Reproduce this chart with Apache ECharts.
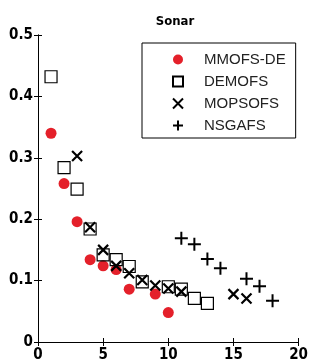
<!DOCTYPE html>
<html><head><meta charset="utf-8">
<script src="https://cdn.jsdelivr.net/npm/echarts@6/dist/echarts.min.js"></script>
<style>html,body{margin:0;padding:0;background:#fff}#c{width:311px;height:364px}</style>
</head><body><div id="c"></div>
<script>
const titleText = 'Sonar';
const xTicks = [0, 5, 10, 15, 20];
const yTicks = [0, 0.1, 0.2, 0.3, 0.4, 0.5];
const seriesNames = ['MMOFS-DE', 'DEMOFS', 'MOPSOFS', 'NSGAFS'];
const mmofsX = [1, 2, 3, 4, 5, 6, 7, 9, 10];
const mmofsY = [0.340, 0.258, 0.196, 0.134, 0.124, 0.118, 0.086, 0.078, 0.048];
const demofsX = [1, 2, 3, 4, 5, 6, 7, 8, 10, 11, 12, 13];
const demofsY = [0.432, 0.284, 0.249, 0.184, 0.142, 0.134, 0.123, 0.098, 0.090, 0.086, 0.071, 0.063];
const mopsofsX = [3, 4, 5, 6, 7, 8, 9, 10, 11, 15, 16];
const mopsofsY = [0.303, 0.187, 0.150, 0.124, 0.112, 0.101, 0.092, 0.087, 0.082, 0.078, 0.071];
const nsgafsX = [11, 12, 13, 14, 16, 17, 18];
const nsgafsY = [0.169, 0.159, 0.135, 0.120, 0.103, 0.091, 0.067];

const zip = (xs, ys) => xs.map((x, i) => [x, ys[i]]);
const labelFont = {fontFamily: 'DejaVu Sans Condensed', fontWeight: 'bold', fontSize: 15, color: '#000'};
const chart = echarts.init(document.getElementById('c'), null, {renderer: 'canvas'});
chart.setOption({
  animation: false,
  backgroundColor: '#fff',
  title: {text: titleText, left: 170, top: 10, textAlign: 'center',
    textStyle: {fontFamily: 'DejaVu Sans Condensed', fontWeight: 'bold', fontSize: 13, color: '#000'}},
  grid: {left: 38, right: 8, top: 35, bottom: 22, containLabel: false},
  legend: {
    data: seriesNames, orient: 'vertical', left: 142, top: 43,
    padding: [9, 10, 5, 30], itemGap: 7, itemWidth: 10, itemHeight: 10,
    borderColor: '#000', borderWidth: 1, backgroundColor: '#fff',
    textStyle: {fontFamily: 'Liberation Sans', fontSize: 15, color: '#222', padding: [0, 0, 0, 16]}
  },
  xAxis: [
    {type: 'value', min: 0, max: 20, interval: 5, splitLine: {show: false},
      axisLine: {lineStyle: {color: '#000', width: 1}},
      axisTick: {inside: true, length: 4, lineStyle: {color: '#000'}},
      axisLabel: Object.assign({margin: 6, formatter: v => String(xTicks[xTicks.indexOf(v)] ?? v)}, labelFont)},
    {type: 'value', position: 'top', min: 0, max: 20, interval: 5, splitLine: {show: false},
      axisLine: {lineStyle: {color: '#000', width: 1}},
      axisTick: {inside: true, length: 4, lineStyle: {color: '#000'}}, axisLabel: {show: false}}
  ],
  yAxis: [
    {type: 'value', min: 0, max: 0.5, interval: 0.1, splitLine: {show: false},
      axisLine: {show: true, lineStyle: {color: '#000', width: 1}},
      axisTick: {show: true, inside: true, length: 4, lineStyle: {color: '#000'}},
      axisLabel: Object.assign({margin: 5, formatter: v => String(yTicks.find(t => Math.abs(t - v) < 1e-9) ?? v)}, labelFont)},
    {type: 'value', position: 'right', min: 0, max: 0.5, interval: 0.1, splitLine: {show: false},
      axisLine: {show: true, lineStyle: {color: '#000', width: 1}},
      axisTick: {show: true, inside: true, length: 4, lineStyle: {color: '#000'}}, axisLabel: {show: false}}
  ],
  series: [
    {name: seriesNames[0], type: 'scatter', data: zip(mmofsX, mmofsY), symbol: 'circle', symbolSize: 11,
      itemStyle: {color: '#e4202a', opacity: 1}},
    {name: seriesNames[1], type: 'scatter', data: zip(demofsX, demofsY), symbol: 'rect', symbolSize: 12,
      itemStyle: {color: 'rgba(0,0,0,0)', borderColor: '#000', borderWidth: 1.2, opacity: 1}},
    {name: seriesNames[2], type: 'scatter', data: zip(mopsofsX, mopsofsY), symbol: 'path://M0,0L10,10M0,10L10,0', symbolSize: 10,
      itemStyle: {color: 'rgba(0,0,0,0)', borderColor: '#000', borderWidth: 2.2, opacity: 1}},
    {name: seriesNames[3], type: 'scatter', data: zip(nsgafsX, nsgafsY), symbol: 'path://M5,0L5,10M0,5L10,5', symbolSize: 13,
      itemStyle: {color: 'rgba(0,0,0,0)', borderColor: '#000', borderWidth: 2, opacity: 1}}
  ]
});
</script></body></html>
